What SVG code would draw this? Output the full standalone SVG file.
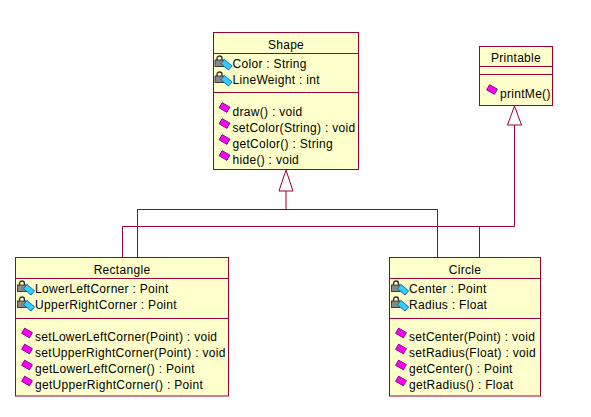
<svg xmlns="http://www.w3.org/2000/svg" xmlns:xlink="http://www.w3.org/1999/xlink" width="591" height="417" viewBox="0 0 591 417">
<style>
.box{fill:#FFFFCC;stroke:#990033;stroke-width:1}
.sep{stroke:#990033;stroke-width:1}
.conn{fill:none;stroke:#990033;stroke-width:1}
.tri{fill:#FFFFFF;stroke:#990033;stroke-width:1}
text{font-family:"Liberation Sans",Arial,sans-serif;font-size:12px;letter-spacing:0.3px;fill:#000}
.title{text-anchor:middle}
</style>
<defs>
<g id="attrIcon">
<path d="M-15.5,-7 v-2 a2.5,2.5 0 0 1 5,0 v2" fill="none" stroke="#333" stroke-width="1.4"/>
<rect x="-17.5" y="-7.5" width="9" height="6.5" fill="#888" stroke="#222" stroke-width="0.8"/>
<rect x="-11" y="-5.5" width="10" height="5.5" transform="rotate(40 -6 -2.75)" fill="#33CCFF" stroke="#006699" stroke-width="0.8"/>
</g>
<g id="opIcon">
<rect x="-12.5" y="-11" width="9" height="6" transform="rotate(30 -8 -8)" fill="#FF00FF" stroke="#660066" stroke-width="0.8"/>
</g>
</defs>
<rect width="591" height="417" fill="#FFFFFF"/>
<g id="connectors">
<polyline class="conn" points="286,191 286,209.5"/>
<polyline class="conn" points="137.5,257.5 137.5,209.5 437.5,209.5 437.5,257.5"/>
<polygon class="tri" points="286,170 279,191 293,191"/>
<polyline class="conn" points="514.5,125 514.5,226.5"/>
<polyline class="conn" points="122.5,257.5 122.5,226.5 514.5,226.5"/>
<polyline class="conn" points="479.5,226.5 479.5,257.5"/>
<polygon class="tri" points="514.5,106 507.5,125 521.5,125"/>
</g>
<g id="Shape">
<rect class="box" x="213.5" y="32.5" width="145" height="137"/>
<line class="sep" x1="213.5" y1="53.5" x2="358.5" y2="53.5"/>
<line class="sep" x1="213.5" y1="92.5" x2="358.5" y2="92.5"/>
<text class="title" x="286" y="48.5">Shape</text>
<use xlink:href="#attrIcon" x="232.5" y="67.5"/>
<text x="232.5" y="67.5">Color : String</text>
<use xlink:href="#attrIcon" x="232.5" y="83.5"/>
<text x="232.5" y="83.5">LineWeight : int</text>
<use xlink:href="#opIcon" x="232.5" y="115.5"/>
<text x="232.5" y="115.5">draw() : void</text>
<use xlink:href="#opIcon" x="232.5" y="131.5"/>
<text x="232.5" y="131.5">setColor(String) : void</text>
<use xlink:href="#opIcon" x="232.5" y="147.5"/>
<text x="232.5" y="147.5">getColor() : String</text>
<use xlink:href="#opIcon" x="232.5" y="163.5"/>
<text x="232.5" y="163.5">hide() : void</text>
</g>
<g id="Printable">
<rect class="box" x="479.5" y="46.5" width="73" height="59"/>
<line class="sep" x1="479.5" y1="66.5" x2="552.5" y2="66.5"/>
<line class="sep" x1="479.5" y1="74.5" x2="552.5" y2="74.5"/>
<text class="title" x="516" y="62">Printable</text>
<use xlink:href="#opIcon" x="500" y="97.5"/>
<text x="500" y="97.5">printMe()</text>
</g>
<g id="Rectangle">
<rect class="box" x="15.5" y="257.5" width="213" height="138.5"/>
<line class="sep" x1="15.5" y1="278.5" x2="228.5" y2="278.5"/>
<line class="sep" x1="15.5" y1="318.5" x2="228.5" y2="318.5"/>
<text class="title" x="122" y="274">Rectangle</text>
<use xlink:href="#attrIcon" x="35" y="292.5"/>
<text x="35" y="292.5">LowerLeftCorner : Point</text>
<use xlink:href="#attrIcon" x="35" y="308.5"/>
<text x="35" y="308.5">UpperRightCorner : Point</text>
<use xlink:href="#opIcon" x="35" y="341"/>
<text x="35" y="341">setLowerLeftCorner(Point) : void</text>
<use xlink:href="#opIcon" x="35" y="357"/>
<text x="35" y="357">setUpperRightCorner(Point) : void</text>
<use xlink:href="#opIcon" x="35" y="373"/>
<text x="35" y="373">getLowerLeftCorner() : Point</text>
<use xlink:href="#opIcon" x="35" y="389"/>
<text x="35" y="389">getUpperRightCorner() : Point</text>
</g>
<g id="Circle">
<rect class="box" x="389.5" y="257.5" width="151" height="138.5"/>
<line class="sep" x1="389.5" y1="278.5" x2="540.5" y2="278.5"/>
<line class="sep" x1="389.5" y1="318.5" x2="540.5" y2="318.5"/>
<text class="title" x="465" y="274">Circle</text>
<use xlink:href="#attrIcon" x="409" y="292.5"/>
<text x="409" y="292.5">Center : Point</text>
<use xlink:href="#attrIcon" x="409" y="308.5"/>
<text x="409" y="308.5">Radius : Float</text>
<use xlink:href="#opIcon" x="409" y="341"/>
<text x="409" y="341">setCenter(Point) : void</text>
<use xlink:href="#opIcon" x="409" y="357"/>
<text x="409" y="357">setRadius(Float) : void</text>
<use xlink:href="#opIcon" x="409" y="373"/>
<text x="409" y="373">getCenter() : Point</text>
<use xlink:href="#opIcon" x="409" y="389"/>
<text x="409" y="389">getRadius() : Float</text>
</g>
</svg>
